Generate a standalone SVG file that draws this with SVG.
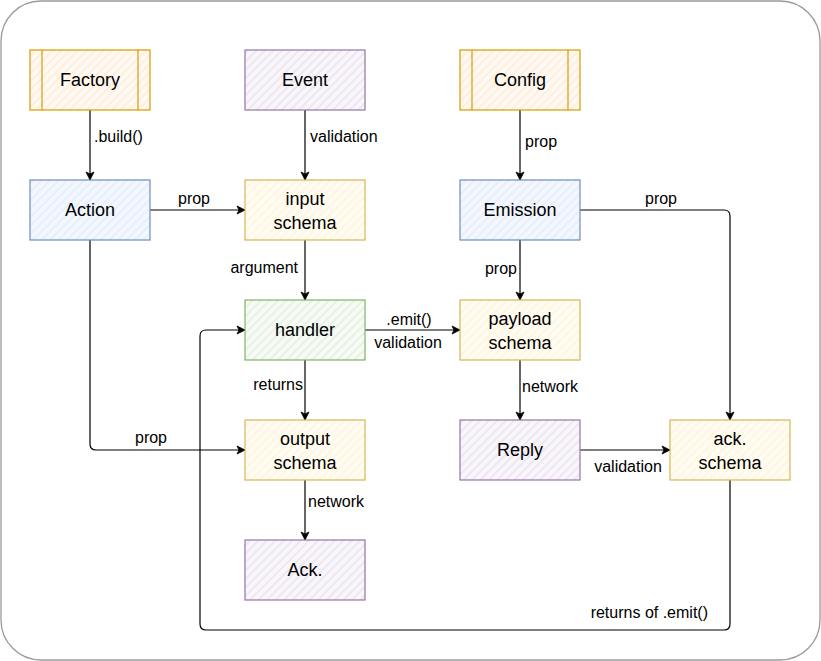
<svg xmlns="http://www.w3.org/2000/svg" width="821" height="661" viewBox="0 0 821 661">
<style>
.box{stroke-width:1.2}
.orange{stroke:#d79b00}
.purple{stroke:#9673a6}
.blue{stroke:#6c8ebf}
.yellow{stroke:#d6b656}
.green{stroke:#82b366}
.nt{font-family:"Liberation Sans",Arial,sans-serif;font-size:18px;fill:#000;text-anchor:middle}
.lt{font-family:"Liberation Sans",Arial,sans-serif;font-size:16px;fill:#000}
.edge{fill:none;stroke:#000;stroke-width:1.2;marker-end:url(#arr)}
</style>
<defs>
<marker id="arr" markerWidth="10" markerHeight="10" refX="9" refY="5" orient="auto" markerUnits="userSpaceOnUse">
<path d="M1,1 L9,5 L1,9 L3,5 z" fill="#000" stroke="#000" stroke-width="0.8" stroke-linejoin="round"/>
</marker>
<pattern id="hO" width="6" height="6" patternUnits="userSpaceOnUse" patternTransform="rotate(45)"><rect width="6" height="6" fill="#fff9f3"/><line x1="1" y1="0" x2="1" y2="6" stroke="#ffe3c6" stroke-width="1"/></pattern>
<pattern id="hP" width="6" height="6" patternUnits="userSpaceOnUse" patternTransform="rotate(45)"><rect width="6" height="6" fill="#f9f6fb"/><line x1="1" y1="0" x2="1" y2="6" stroke="#e3d8e9" stroke-width="1"/></pattern>
<pattern id="hB" width="6" height="6" patternUnits="userSpaceOnUse" patternTransform="rotate(45)"><rect width="6" height="6" fill="#f4f8fe"/><line x1="1" y1="0" x2="1" y2="6" stroke="#d8e6fb" stroke-width="1"/></pattern>
<pattern id="hY" width="6" height="6" patternUnits="userSpaceOnUse" patternTransform="rotate(45)"><rect width="6" height="6" fill="#fffcf3"/><line x1="1" y1="0" x2="1" y2="6" stroke="#fff1cc" stroke-width="1"/></pattern>
<pattern id="hG" width="6" height="6" patternUnits="userSpaceOnUse" patternTransform="rotate(45)"><rect width="6" height="6" fill="#f6fbf5"/><line x1="1" y1="0" x2="1" y2="6" stroke="#d8ead6" stroke-width="1"/></pattern>
</defs>

<rect x="1" y="1" width="819" height="659" rx="40" ry="40" fill="#fff" stroke="#9a9a9a" stroke-width="1.3"/>

<g id="connectors">
<path class="edge" d="M90,110 L90,180"/>
<path class="edge" d="M305,110 L305,180"/>
<path class="edge" d="M520,110 L520,180"/>
<path class="edge" d="M150,210 L245,210"/>
<path class="edge" d="M305,240 L305,300"/>
<path class="edge" d="M520,240 L520,300"/>
<path class="edge" d="M580,210 L724,210 Q730,210 730,216 L730,420"/>
<path class="edge" d="M365,330 L460,330"/>
<path class="edge" d="M305,360 L305,420"/>
<path class="edge" d="M520,360 L520,420"/>
<path class="edge" d="M90,240 L90,444 Q90,450 96,450 L245,450"/>
<path class="edge" d="M305,480 L305,540"/>
<path class="edge" d="M580,450 L670,450"/>
<path class="edge" d="M730,480 L730,624 Q730,630 724,630 L206,630 Q200,630 200,624 L200,336 Q200,330 206,330 L245,330"/>
<text class="lt" x="94" y="142">.build()</text>
<text class="lt" x="310" y="142">validation</text>
<text class="lt" x="525" y="147">prop</text>
<text class="lt" x="194" y="204" text-anchor="middle">prop</text>
<text class="lt" x="661" y="204" text-anchor="middle">prop</text>
<text class="lt" x="298" y="273" text-anchor="end">argument</text>
<text class="lt" x="517" y="274" text-anchor="end">prop</text>
<text class="lt" x="409" y="325" text-anchor="middle">.emit()</text>
<text class="lt" x="408" y="348" text-anchor="middle">validation</text>
<text class="lt" x="303" y="390" text-anchor="end">returns</text>
<text class="lt" x="522" y="392">network</text>
<text class="lt" x="151" y="443" text-anchor="middle">prop</text>
<text class="lt" x="308" y="507">network</text>
<text class="lt" x="628" y="472" text-anchor="middle">validation</text>
<text class="lt" x="708" y="618" text-anchor="end">returns of .emit()</text>
</g>

<g id="factory">
<rect class="box orange" x="30" y="50" width="120" height="60" fill="url(#hO)"/>
<line class="orange" x1="42" y1="50" x2="42" y2="110" stroke-width="1.2"/>
<line class="orange" x1="138" y1="50" x2="138" y2="110" stroke-width="1.2"/>
<text class="nt" x="90" y="86">Factory</text>
</g>
<g id="event">
<rect class="box purple" x="245" y="50" width="120" height="60" fill="url(#hP)"/>
<text class="nt" x="305" y="86">Event</text>
</g>
<g id="config">
<rect class="box orange" x="460" y="50" width="120" height="60" fill="url(#hO)"/>
<line class="orange" x1="472" y1="50" x2="472" y2="110" stroke-width="1.2"/>
<line class="orange" x1="568" y1="50" x2="568" y2="110" stroke-width="1.2"/>
<text class="nt" x="520" y="86">Config</text>
</g>
<g id="action">
<rect class="box blue" x="30" y="180" width="120" height="60" fill="url(#hB)"/>
<text class="nt" x="90" y="216">Action</text>
</g>
<g id="input-schema">
<rect class="box yellow" x="245" y="180" width="120" height="60" fill="url(#hY)"/>
<text class="nt" x="305" y="205">input</text>
<text class="nt" x="305" y="229">schema</text>
</g>
<g id="emission">
<rect class="box blue" x="460" y="180" width="120" height="60" fill="url(#hB)"/>
<text class="nt" x="520" y="216">Emission</text>
</g>
<g id="handler">
<rect class="box green" x="245" y="300" width="120" height="60" fill="url(#hG)"/>
<text class="nt" x="305" y="336">handler</text>
</g>
<g id="payload-schema">
<rect class="box yellow" x="460" y="300" width="120" height="60" fill="url(#hY)"/>
<text class="nt" x="520" y="325">payload</text>
<text class="nt" x="520" y="349">schema</text>
</g>
<g id="output-schema">
<rect class="box yellow" x="245" y="420" width="120" height="60" fill="url(#hY)"/>
<text class="nt" x="305" y="445">output</text>
<text class="nt" x="305" y="469">schema</text>
</g>
<g id="reply">
<rect class="box purple" x="460" y="420" width="120" height="60" fill="url(#hP)"/>
<text class="nt" x="520" y="456">Reply</text>
</g>
<g id="ack-schema">
<rect class="box yellow" x="670" y="420" width="120" height="60" fill="url(#hY)"/>
<text class="nt" x="730" y="445">ack.</text>
<text class="nt" x="730" y="469">schema</text>
</g>
<g id="ack">
<rect class="box purple" x="245" y="540" width="120" height="60" fill="url(#hP)"/>
<text class="nt" x="305" y="576">Ack.</text>
</g>
</svg>
